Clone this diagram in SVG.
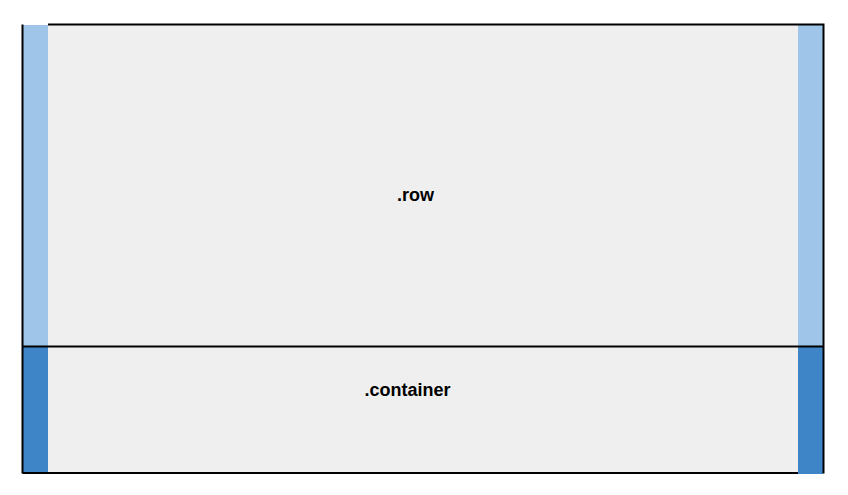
<svg xmlns="http://www.w3.org/2000/svg" width="848" height="495" viewBox="0 0 848 495">
<style>
.bg{fill:#efefef}
.lt{fill:#9fc5e8}
.dk{fill:#3d85c6}
.ln{stroke:#000;stroke-width:2;fill:none}
.lbl{font-family:"Liberation Sans",Arial,sans-serif;font-weight:bold;font-size:18px;fill:#000;text-anchor:middle}
</style>
<rect width="848" height="495" fill="#fff"/>
<g id="container">
<rect class="bg" x="23" y="346" width="800" height="127"/>
<rect class="dk" x="23" y="346" width="25" height="128"/>
<rect class="dk" x="798" y="346" width="25" height="128"/>
<text class="lbl" x="407.5" y="396">.container</text>
</g>
<g id="row">
<rect class="bg" x="23" y="25" width="800" height="321"/>
<rect class="lt" x="23" y="25" width="25" height="321"/>
<rect class="lt" x="798" y="25" width="25" height="321"/>
<text class="lbl" x="415.5" y="201">.row</text>
</g>
<g id="connectors">
<path class="ln" d="M22.5 24.5V473.5M48 24.5H823.5V473.5M22.5 473H798M22.5 346.5H823"/>
</g>
</svg>
